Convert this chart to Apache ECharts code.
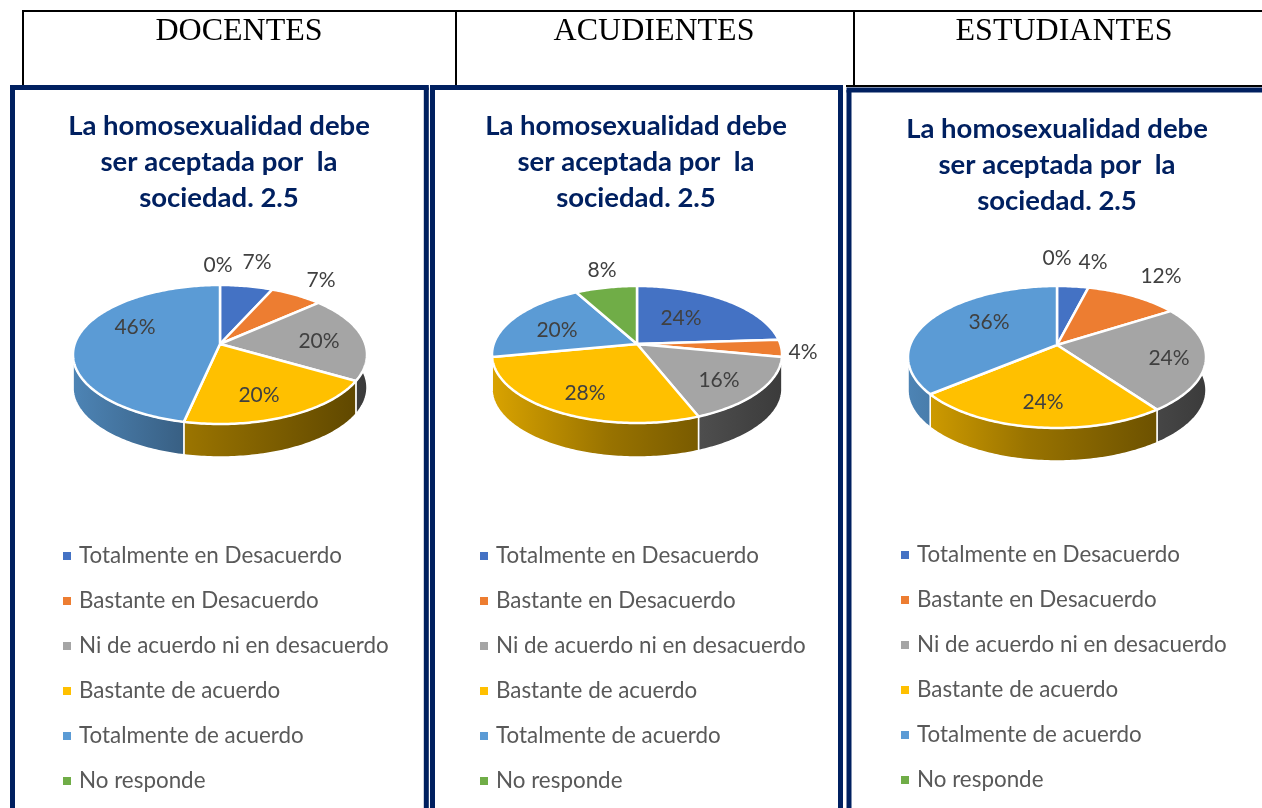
<!DOCTYPE html>
<html><head><meta charset="utf-8">
<style>html,body{margin:0;padding:0;background:#fff}#c{width:1262px;height:808px}</style>
<script src="https://cdn.jsdelivr.net/npm/echarts@6/dist/echarts.min.js"></script>
</head><body><div id="c"></div>
<script>
const headers = ['DOCENTES', 'ACUDIENTES', 'ESTUDIANTES'];
const chartTitle = 'La homosexualidad debe\nser aceptada por  la\nsociedad. 2.5';
const categories = ['Totalmente en Desacuerdo','Bastante en Desacuerdo','Ni de acuerdo ni en desacuerdo','Bastante de acuerdo','Totalmente de acuerdo','No responde'];
const docentes = [6.7, 6.7, 20, 20, 46.6, 0];
const docentesLabels = ['7%','7%','20%','20%','46%','0%'];
const acudientes = [24, 4, 16, 28, 20, 8];
const acudientesLabels = ['24%','4%','16%','28%','20%','8%'];
const estudiantes = [4, 12, 24, 24, 36, 0];
const estudiantesLabels = ['4%','12%','24%','24%','36%','0%'];
const colors = ['#4472c4','#ed7d31','#a5a5a5','#ffc000','#5b9bd5','#70ad47'];

// layout (not data)
const WALL_END = 259.3;
const panels = [
  {values: docentes, texts: docentesLabels, cx: 220,  cy: 344, up: 59, down: 80, rx: 147, depth: 33, titleX: 214,  titleY: 103, legX: 63,  legY: 544, headX: 234,
   labels: [[37,-82],[101,-64],[99,-3],[39,51],[-85,-17],[-2,-79]]},
  {values: acudientes, texts: acudientesLabels, cx: 637,  cy: 344, up: 58, down: 79, rx: 145, depth: 34, titleX: 631,  titleY: 103, legX: 480, legY: 544, headX: 649,
   labels: [[44,-26],[166,8],[82,36],[-52,49],[-80,-14],[-35,-74]]},
  {values: estudiantes, texts: estudiantesLabels, cx: 1057, cy: 345, up: 59, down: 83, rx: 149, depth: 33, titleX: 1052, titleY: 106, legX: 901, legY: 543, headX: 1059,
   labels: [[36,-83],[104,-69],[112,13],[-14,57],[-68,-23],[0,-87]]}
];

function grad(hex, p) {
  const n = parseInt(hex.slice(1), 16);
  const shade = k => 'rgb(' + [(n>>16)&255, (n>>8)&255, n&255].map(v => Math.round(v*k)).join(',') + ')';
  return new echarts.graphic.LinearGradient(p.cx - p.rx, 0, p.cx + p.rx, 0, [
    {offset: 0, color: shade(0.85)}, {offset: 0.4, color: shade(0.6)}, {offset: 1, color: shade(0.36)}
  ], true);
}

function projector(p) {
  const k = (p.down - p.up) / (p.down + p.up);
  const c = p.up * (1 + k);
  const a = p.rx * Math.sqrt(1 - k * k);
  return deg => {
    const t = deg * Math.PI / 180, x = Math.sin(t), y = -Math.cos(t), d = 1 - k * y;
    return [p.cx + a * x / d, p.cy + c * y / d];
  };
}

function arcPoints(proj, a0, a1) {
  const arc = [];
  for (let a = a0; a < a1; a += 1) arc.push(proj(a));
  arc.push(proj(a1));
  return arc;
}

function pieSeries(p) {
  const total = p.values.reduce((s, v) => s + v, 0);
  const proj = projector(p);
  return {
    type: 'custom', coordinateSystem: 'none', silent: true, animation: false,
    data: p.values,
    renderItem(params) {
      const i = params.dataIndex;
      const before = p.values.slice(0, i).reduce((s, v) => s + v, 0);
      const a0 = before / total * 360, a1 = (before + p.values[i]) / total * 360;
      const children = [];
      if (p.values[i] > 0) {
        if (a0 < WALL_END) {
          const wallArc = arcPoints(proj, a0, Math.min(a1, WALL_END));
          const lower = wallArc.map(q => [q[0], q[1] + p.depth]).reverse();
          children.push({type: 'polygon', z2: 1, shape: {points: wallArc.concat(lower)},
            style: {fill: grad(colors[i], p), stroke: '#fff', lineWidth: 1.5}});
        }
        children.push({type: 'polygon', z2: 2, shape: {points: [[p.cx, p.cy]].concat(arcPoints(proj, a0, a1))},
          style: {fill: colors[i], stroke: '#fff', lineWidth: 2.5, lineJoin: 'round'}});
      }
      const lab = p.labels[i];
      children.push({type: 'text', z2: 5, style: {
        x: p.cx + lab[0], y: p.cy + lab[1], text: p.texts[i], fill: '#404040',
        font: '21px Lato', align: 'center', verticalAlign: 'middle'}});
      return {type: 'group', children};
    }
  };
}

function hiddenPie(p) {
  return {type: 'pie', radius: [0, 0], center: [p.cx, p.cy], silent: true, animation: false,
    label: {show: false}, labelLine: {show: false}, itemStyle: {borderWidth: 0},
    data: categories.map((c, j) => ({name: c, value: p.values[j], itemStyle: {color: colors[j]}}))};
}

const navy = '#002060';
const frame = (l, t, r, clipRight) => {
  const st = {stroke: navy, lineWidth: 5};
  const out = [
    {type: 'line', shape: {x1: l, y1: t, x2: l, y2: 808}, style: st},
    {type: 'line', shape: {x1: l - 2.5, y1: t, x2: clipRight ? 1262 : r + 2.5, y2: t}, style: st}
  ];
  if (!clipRight) out.push({type: 'line', shape: {x1: r, y1: t, x2: r, y2: 808}, style: st});
  return out;
};
const tbl = {stroke: '#000', lineWidth: 2};
const graphics = [
  {type: 'line', shape: {x1: 22, y1: 11, x2: 1262, y2: 11}, style: tbl},
  {type: 'line', shape: {x1: 23, y1: 11, x2: 23, y2: 86}, style: tbl},
  {type: 'line', shape: {x1: 456, y1: 11, x2: 456, y2: 86}, style: tbl},
  {type: 'line', shape: {x1: 854, y1: 11, x2: 854, y2: 86}, style: tbl},
  {type: 'line', shape: {x1: 846, y1: 86, x2: 1262, y2: 86}, style: {stroke: '#000', lineWidth: 2}},
  ...frame(12.5, 87.5, 426.3, false),
  ...frame(432.5, 87.5, 840.5, false),
  ...frame(849, 90, 1262, true)
];

const chart = echarts.init(document.getElementById('c'), null, {renderer: 'canvas'});
chart.setOption({
  animation: false,
  backgroundColor: '#fff',
  title: [
    ...panels.map((p, i) => ({text: headers[i], left: p.headX, top: 11, textAlign: 'center',
      textStyle: {fontFamily: 'Liberation Serif', fontWeight: 'normal', fontSize: 32, color: '#000'}})),
    ...panels.map(p => ({text: chartTitle, left: p.titleX, top: p.titleY, textAlign: 'center',
      textStyle: {fontFamily: 'Lato', fontWeight: 'bold', fontSize: 27.5, lineHeight: 36, color: navy}}))
  ],
  legend: panels.map((p, i) => ({
    orient: 'vertical', left: p.legX, top: p.legY, seriesIndex: [i + 3], data: categories,
    icon: 'rect', itemWidth: 8, itemHeight: 8, itemGap: 21, selectedMode: false, padding: 0,
    textStyle: {fontFamily: 'Lato', fontSize: 22.4, color: '#595959', padding: [0, 0, 0, 3], lineHeight: 24}
  })),
  series: [...panels.map(pieSeries), ...panels.map(hiddenPie)],
  graphic: graphics
});
</script></body></html>
